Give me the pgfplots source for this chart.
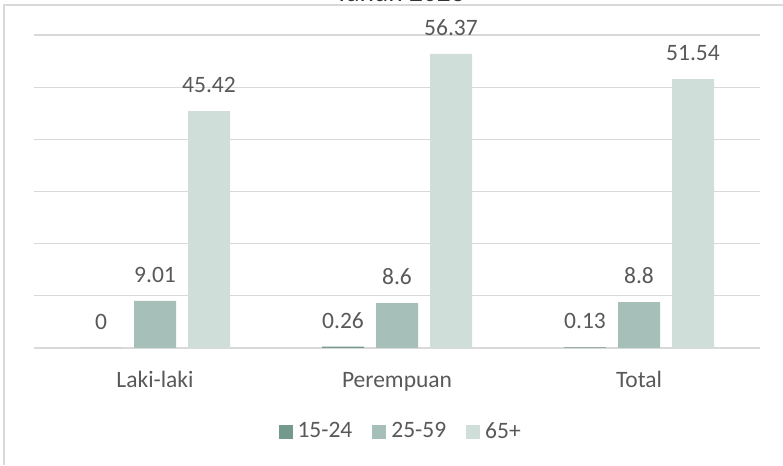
\documentclass[border=0pt]{standalone}
\usepackage{pgfplots}
\pgfplotsset{compat=1.18}
\usepackage{fontspec}
\setmainfont{Carlito}
\definecolor{cA}{HTML}{76998D}
\definecolor{cB}{HTML}{A6BFB8}
\definecolor{cC}{HTML}{CFDED9}
\definecolor{txt}{HTML}{595959}
\definecolor{grd}{HTML}{D9D9D9}
\begin{document}
\fontsize{23.5}{28}\selectfont
\begin{tikzpicture}
\useasboundingbox (0,0) rectangle (783pt,465pt);
\draw[grd, line width=1.3pt] (4pt,0pt) -- (4pt,460pt) -- (790pt,460pt);
\node[anchor=base, text=black!80, font=\fontsize{27.5}{32}\selectfont, inner sep=0pt] at (400pt,463.3pt) {Tahun 2023};
\begin{axis}[
  at={(34pt,117pt)}, anchor=south west,
  scale only axis, width=726pt, height=313pt,
  ybar=12pt, bar width=42pt,
  xmin=-0.5, xmax=2.5, ymin=0, ymax=60,
  xtick={0,1,2}, xticklabels={Laki-laki,Perempuan,Total},
  ytick={0,10,20,30,40,50,60}, yticklabels={},
  major tick length=0pt,
  ymajorgrids, grid style={grd, line width=1.3pt},
  axis line style={draw=none},
  xticklabel style={anchor=base, yshift=-39pt, text=txt, inner sep=0pt},
  /pgf/number format/assume math mode=true,
  nodes near coords,
  every node near coord/.append style={text=txt, inner sep=0pt, anchor=south, yshift=18pt},
  legend columns=3,
  legend style={draw=none, at={(0.505,-0.268)}, anchor=center, text=txt,
    /tikz/every odd column/.append style={column sep=3pt},
    /tikz/every even column/.append style={column sep=18pt}},
  legend image code/.code={\fill[#1] (0pt,-7pt) rectangle (14pt,7pt);},
]
\addplot[fill=cA, draw=none] coordinates {(0,0) (1,0.26) (2,0.13)};
\addplot[fill=cB, draw=none] coordinates {(0,9.01) (1,8.6) (2,8.8)};
\addplot[fill=cC, draw=none] coordinates {(0,45.42) (1,56.37) (2,51.54)};
\legend{15-24,25-59,65+}
\end{axis}
\end{tikzpicture}
\end{document}
